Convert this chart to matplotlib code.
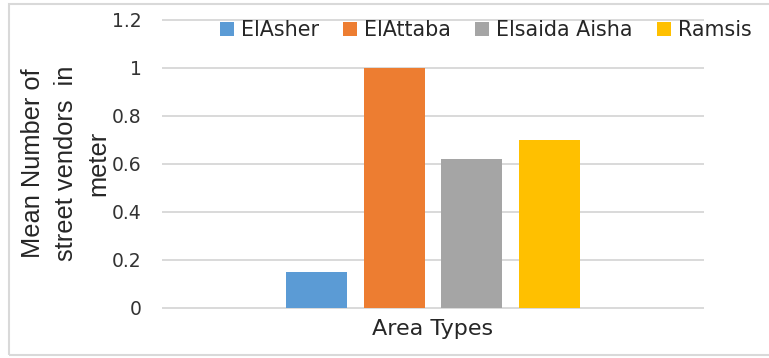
import numpy as np
import matplotlib
matplotlib.use("Agg")
import matplotlib.pyplot as plt
from matplotlib.patches import Rectangle

# data
areas = ["ElAsher", "ElAttaba", "Elsaida Aisha", "Ramsis"]
mean_vendors = [0.15, 1.0, 0.62, 0.70]
colors = ["#5B9BD5", "#ED7D31", "#A5A5A5", "#FFC000"]
category = "Area Types"
yticks = [0, 0.2, 0.4, 0.6, 0.8, 1.0, 1.2]
ytick_labels = ["0", "0.2", "0.4", "0.6", "0.8", "1", "1.2"]

W, H = 769, 358
fig = plt.figure(figsize=(W / 100, H / 100), dpi=100)
ax = fig.add_axes([163 / W, 1 - 307.7 / H, 540 / W, 288.2 / H])

grid_c = "#D9D9D9"
x = np.arange(len(areas)) - (len(areas) - 1) / 2
for xi, v, c, name in zip(x, mean_vendors, colors, areas):
    ax.bar(xi, v, width=0.785, color=c, label=name, zorder=3)

ax.set_xlim(-3.475, 3.475)
ax.set_ylim(0, 1.2)
ax.set_yticks(yticks)
ax.set_yticklabels(ytick_labels)
ax.set_xticks([0])
ax.set_xticklabels([category])
ax.grid(axis="y", color=grid_c, lw=1.4, zorder=0)
for gl in ax.get_ygridlines():
    gl.set_clip_on(False)
for s in ax.spines.values():
    s.set_visible(False)
ax.tick_params(axis="y", length=0, pad=15.5, labelsize=13.5, labelcolor="#333333")
ax.tick_params(axis="x", length=0, pad=8, labelsize=16, labelcolor="#262626")

# y label, three lines like the excel one
fig.text(66 / W, 1 - 163 / H, "Mean Number of\nstreet vendors  in\nmeter",
         rotation=90, ha="center", va="center", multialignment="center",
         fontsize=18.3, family="Liberation Sans", linespacing=1.45, color="#262626")

leg = fig.legend(loc="center", bbox_to_anchor=(486 / W, 1 - 30 / H), ncol=4,
                 frameon=False, fontsize=14.9, handlelength=0.68, handleheight=0.68,
                 handletextpad=0.34, columnspacing=1.16, borderpad=0, borderaxespad=0)
for t in leg.get_texts():
    t.set_color("#262626")

# chart border
fig.patches.append(Rectangle((9 / W, 1 - 355 / H), 1.0, 351 / H, transform=fig.transFigure,
                             fill=False, edgecolor=grid_c, lw=1.5))

fig.savefig("out.png", dpi=100)
